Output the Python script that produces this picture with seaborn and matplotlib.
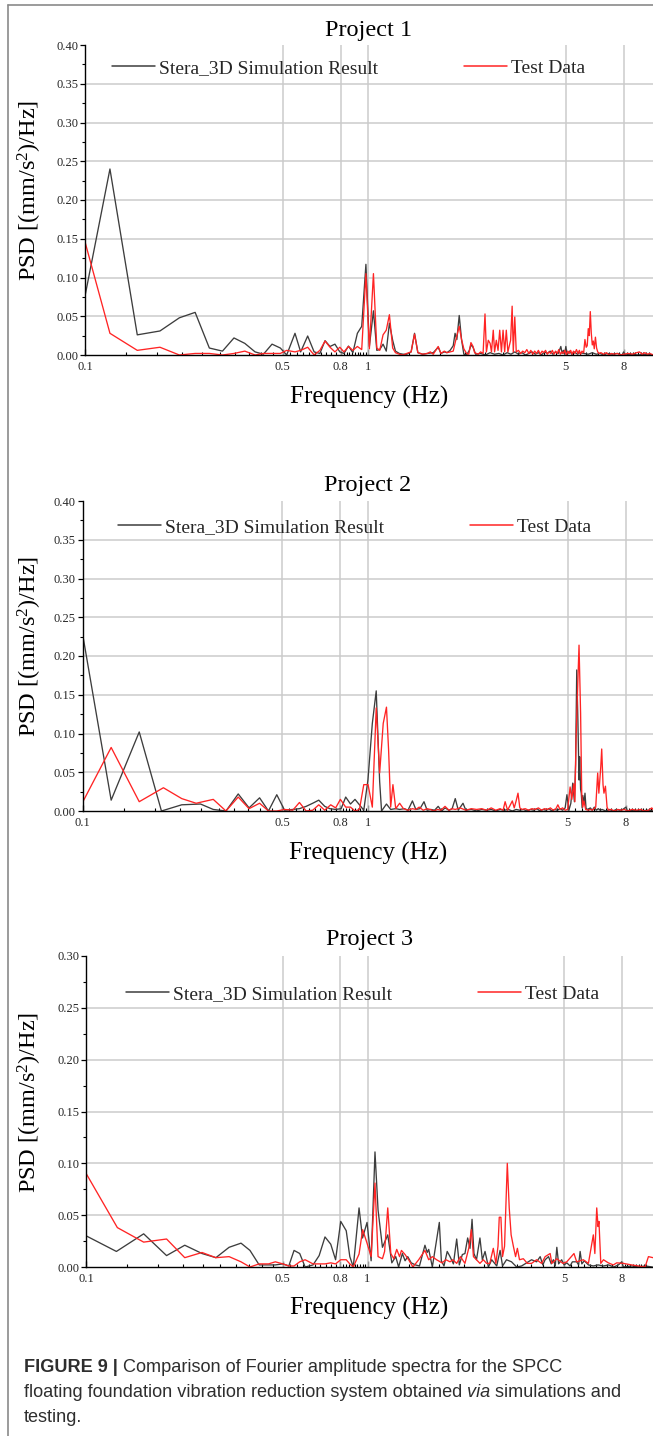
import numpy as np
import pandas as pd
import matplotlib
matplotlib.use("Agg")
import matplotlib.pyplot as plt
import seaborn as sns
from matplotlib.ticker import FixedLocator, FixedFormatter, MultipleLocator, FormatStrFormatter
from matplotlib.lines import Line2D

# ---------------- data ----------------
SERIES_NAMES = ["Stera_3D Simulation Result", "Test Data"]
TITLES = ["Project 1", "Project 2", "Project 3"]
XTICKS = [0.1, 0.5, 0.8, 1, 5, 8]
XTICK_LABELS = ["0.1", "0.5", "0.8", "1", "5", "8"]
X_LABEL = "Frequency (Hz)"
Y_LABEL = r"PSD [(mm/s$^{\mathregular{2}}$)/Hz]"

P1_SIM = [(0.100, 0.076), (0.1225, 0.240), (0.153, 0.026), (0.184, 0.031), (0.2155, 0.048),
          (0.245, 0.055), (0.275, 0.009), (0.306, 0.005), (0.336, 0.022), (0.367, 0.015),
          (0.399, 0.004), (0.427, 0.001), (0.458, 0.014), (0.490, 0.009), (0.516, 0.000),
          (0.552, 0.028), (0.578, 0.004), (0.612, 0.0245), (0.645, 0.004), (0.676, 0.002),
          (0.705, 0.0185), (0.734, 0.011), (0.764, 0.014), (0.795, 0.004), (0.822, 0.002),
          (0.853, 0.0115), (0.884, 0.003), (0.917, 0.028), (0.950, 0.037), (0.983, 0.117),
          (1.011, 0.011), (1.045, 0.057), (1.074, 0.006), (1.100, 0.007), (1.130, 0.014),
          (1.160, 0.005), (1.190, 0.041), (1.222, 0.019), (1.250, 0.005), (1.29, 0.002),
          (1.33, 0.001), (1.37, 0.001), (1.42, 0.004), (1.46, 0.028), (1.50, 0.003),
          (1.56, 0.001), (1.62, 0.002), (1.70, 0.003), (1.77, 0.010), (1.81, 0.002),
          (1.86, 0.004), (1.90, 0.003), (1.95, 0.006), (2.00, 0.012), (2.03, 0.028),
          (2.06, 0.020), (2.10, 0.051), (2.14, 0.020), (2.18, 0.001), (2.23, 0.000),
          (2.28, 0.006), (2.31, 0.013), (2.35, 0.010), (2.40, 0.001), (2.5, 0.002),
          (2.6, 0.000), (2.7, 0.003), (2.8, 0.001), (2.9, 0.002), (3.0, 0.000), (3.1, 0.003),
          (3.2, 0.001), (3.3, 0.004), (3.4, 0.001), (3.5, 0.003), (3.6, 0.000), (3.7, 0.002),
          (3.8, 0.004), (3.9, 0.001), (4.0, 0.003), (4.1, 0.000), (4.2, 0.004), (4.3, 0.002),
          (4.4, 0.005), (4.5, 0.001), (4.6, 0.004), (4.7, 0.002), (4.8, 0.011), (4.85, 0.002),
          (4.9, 0.006), (4.95, 0.001), (5.0, 0.011), (5.05, 0.000), (5.15, 0.005), (5.25, 0.001),
          (5.35, 0.004), (5.5, 0.001), (5.6, 0.003), (5.8, 0.002), (6.0, 0.001), (6.2, 0.003),
          (6.4, 0.001), (6.6, 0.002), (6.8, 0.000), (7.0, 0.002), (7.3, 0.001), (7.6, 0.002),
          (7.9, 0.000), (8.0, 0.004), (8.1, 0.000), (8.5, 0.001), (9.0, 0.000), (9.5, 0.001),
          (10.2, 0.000)]

P1_TEST = [(0.100, 0.146), (0.1225, 0.028), (0.153, 0.006), (0.184, 0.010), (0.2155, 0.000),
           (0.245, 0.002), (0.275, 0.002), (0.306, 0.000), (0.336, 0.002), (0.367, 0.005),
           (0.399, 0.000), (0.427, 0.002), (0.458, 0.002), (0.490, 0.002), (0.516, 0.006),
           (0.552, 0.004), (0.578, 0.006), (0.612, 0.010), (0.645, 0.000), (0.676, 0.006),
           (0.705, 0.018), (0.734, 0.010), (0.764, 0.004), (0.795, 0.010), (0.822, 0.004),
           (0.853, 0.011), (0.884, 0.006), (0.917, 0.011), (0.950, 0.007), (0.983, 0.105),
           (1.011, 0.008), (1.045, 0.105), (1.074, 0.009), (1.100, 0.006), (1.130, 0.026),
           (1.160, 0.032), (1.190, 0.052), (1.222, 0.009), (1.250, 0.003), (1.29, 0.001),
           (1.33, 0.000), (1.37, 0.002), (1.42, 0.004), (1.46, 0.027), (1.50, 0.003),
           (1.56, 0.001), (1.62, 0.002), (1.66, 0.004), (1.70, 0.001), (1.77, 0.011),
           (1.81, 0.002), (1.86, 0.005), (1.90, 0.003), (1.95, 0.004), (2.00, 0.005),
           (2.05, 0.022), (2.10, 0.037), (2.14, 0.020), (2.18, 0.008), (2.23, 0.002),
           (2.27, 0.001), (2.31, 0.016), (2.35, 0.011), (2.38, 0.003), (2.45, 0.001),
           (2.50, 0.004), (2.55, 0.002), (2.59, 0.053), (2.62, 0.004), (2.66, 0.019),
           (2.70, 0.015), (2.73, 0.004), (2.77, 0.032), (2.80, 0.004), (2.84, 0.019),
           (2.88, 0.006), (2.92, 0.032), (2.96, 0.004), (3.00, 0.032), (3.04, 0.004),
           (3.08, 0.032), (3.12, 0.004), (3.19, 0.019), (3.23, 0.063), (3.26, 0.004),
           (3.30, 0.049), (3.34, 0.004), (3.40, 0.006), (3.46, 0.002), (3.52, 0.005),
           (3.58, 0.003), (3.64, 0.007), (3.70, 0.002), (3.76, 0.006), (3.82, 0.001),
           (3.88, 0.005), (3.94, 0.002), (4.00, 0.006), (4.06, 0.001), (4.12, 0.005),
           (4.18, 0.003), (4.24, 0.006), (4.30, 0.001), (4.36, 0.004), (4.42, 0.002),
           (4.48, 0.006), (4.54, 0.001), (4.60, 0.005), (4.66, 0.002), (4.72, 0.007),
           (4.78, 0.001), (4.84, 0.004), (4.90, 0.002), (4.96, 0.006), (5.02, 0.000),
           (5.08, 0.005), (5.14, 0.002), (5.20, 0.006), (5.26, 0.001), (5.32, 0.005),
           (5.38, 0.002), (5.45, 0.007), (5.52, 0.002), (5.58, 0.006), (5.64, 0.001),
           (5.70, 0.005), (5.78, 0.003), (5.84, 0.020), (5.90, 0.010), (5.95, 0.012),
           (6.00, 0.034), (6.05, 0.025), (6.10, 0.056), (6.15, 0.028), (6.20, 0.013),
           (6.25, 0.018), (6.30, 0.008), (6.36, 0.023), (6.42, 0.009), (6.48, 0.004),
           (6.55, 0.002), (6.65, 0.003), (6.8, 0.001), (6.95, 0.003), (7.1, 0.000),
           (7.25, 0.002), (7.4, 0.001), (7.6, 0.002), (7.8, 0.000), (8.0, 0.001), (8.3, 0.002),
           (8.6, 0.001), (8.9, 0.003), (9.1, 0.004), (9.3, 0.001), (9.5, 0.003), (9.7, 0.001),
           (9.9, 0.002), (10.2, 0.000)]

P2_SIM = [(0.100, 0.229), (0.126, 0.014), (0.158, 0.102), (0.189, 0.000), (0.2226, 0.008),
          (0.259, 0.009), (0.287, 0.002), (0.318, 0.000), (0.351, 0.022), (0.383, 0.004),
          (0.417, 0.017), (0.448, 0.000), (0.479, 0.021), (0.510, 0.001), (0.545, 0.002),
          (0.575, 0.003), (0.607, 0.006), (0.640, 0.010), (0.672, 0.014), (0.705, 0.006),
          (0.735, 0.003), (0.770, 0.002), (0.805, 0.003), (0.835, 0.018), (0.868, 0.009),
          (0.900, 0.015), (0.933, 0.008), (0.966, 0.001), (0.999, 0.040), (1.035, 0.113),
          (1.068, 0.155), (1.098, 0.038), (1.115, 0.000), (1.16, 0.009), (1.20, 0.002),
          (1.25, 0.003), (1.29, 0.002), (1.34, 0.003), (1.38, 0.001), (1.43, 0.013),
          (1.47, 0.002), (1.52, 0.003), (1.57, 0.012), (1.61, 0.001), (1.66, 0.002),
          (1.71, 0.001), (1.76, 0.006), (1.81, 0.000), (1.86, 0.004), (1.92, 0.001),
          (1.97, 0.003), (2.02, 0.016), (2.07, 0.001), (2.15, 0.010), (2.20, 0.001),
          (2.30, 0.002), (2.4, 0.000), (2.5, 0.002), (2.6, 0.001), (2.7, 0.002), (2.8, 0.000),
          (2.9, 0.002), (3.0, 0.001), (3.1, 0.002), (3.2, 0.000), (3.3, 0.002), (3.4, 0.001),
          (3.5, 0.002), (3.6, 0.000), (3.7, 0.002), (3.8, 0.001), (3.9, 0.003), (4.0, 0.000),
          (4.1, 0.002), (4.2, 0.001), (4.3, 0.003), (4.4, 0.000), (4.5, 0.002), (4.6, 0.001),
          (4.7, 0.003), (4.8, 0.001), (4.9, 0.004), (4.97, 0.021), (5.05, 0.001), (5.13, 0.010),
          (5.21, 0.036), (5.28, 0.012), (5.33, 0.060), (5.38, 0.182), (5.43, 0.117),
          (5.48, 0.040), (5.51, 0.070), (5.55, 0.028), (5.58, 0.023), (5.62, 0.004),
          (5.65, 0.020), (5.70, 0.010), (5.75, 0.023), (5.80, 0.003), (5.9, 0.002), (6.0, 0.004),
          (6.1, 0.001), (6.2, 0.005), (6.3, 0.001), (6.4, 0.003), (6.5, 0.001), (6.6, 0.002),
          (6.8, 0.000), (7.0, 0.002), (7.2, 0.000), (7.4, 0.002), (7.6, 0.001), (7.8, 0.002),
          (8.0, 0.005), (8.1, 0.000), (8.5, 0.001), (9.0, 0.000), (9.5, 0.001), (10.0, 0.000)]

P2_TEST = [(0.100, 0.011), (0.126, 0.082), (0.158, 0.012), (0.192, 0.030), (0.2226, 0.016),
           (0.250, 0.010), (0.287, 0.015), (0.318, 0.000), (0.351, 0.018), (0.383, 0.003),
           (0.417, 0.010), (0.448, 0.000), (0.479, 0.000), (0.510, 0.002), (0.545, 0.001),
           (0.575, 0.011), (0.607, 0.000), (0.640, 0.001), (0.672, 0.008), (0.705, 0.001),
           (0.740, 0.008), (0.770, 0.004), (0.800, 0.015), (0.835, 0.005), (0.868, 0.005),
           (0.900, 0.000), (0.933, 0.002), (0.966, 0.034), (1.000, 0.034), (1.035, 0.005),
           (1.068, 0.133), (1.098, 0.049), (1.130, 0.113), (1.160, 0.134), (1.180, 0.079),
           (1.200, 0.005), (1.222, 0.034), (1.25, 0.003), (1.29, 0.010), (1.33, 0.003),
           (1.38, 0.001), (1.43, 0.003), (1.47, 0.002), (1.51, 0.005), (1.56, 0.001),
           (1.61, 0.003), (1.65, 0.002), (1.70, 0.000), (1.75, 0.002), (1.80, 0.001),
           (1.86, 0.006), (1.92, 0.001), (1.97, 0.003), (2.02, 0.002), (2.1, 0.004),
           (2.2, 0.001), (2.3, 0.003), (2.4, 0.002), (2.5, 0.003), (2.6, 0.001), (2.7, 0.004),
           (2.8, 0.001), (2.9, 0.003), (2.97, 0.001), (3.02, 0.012), (3.08, 0.001),
           (3.14, 0.007), (3.20, 0.013), (3.25, 0.004), (3.30, 0.013), (3.35, 0.023),
           (3.40, 0.004), (3.46, 0.002), (3.55, 0.003), (3.65, 0.001), (3.75, 0.003),
           (3.85, 0.002), (3.95, 0.004), (4.05, 0.001), (4.15, 0.003), (4.25, 0.002),
           (4.35, 0.004), (4.45, 0.001), (4.55, 0.003), (4.62, 0.008), (4.70, 0.002),
           (4.80, 0.004), (4.90, 0.001), (5.00, 0.002), (5.10, 0.031), (5.17, 0.015),
           (5.25, 0.035), (5.30, 0.012), (5.35, 0.092), (5.43, 0.169), (5.48, 0.214),
           (5.55, 0.126), (5.60, 0.023), (5.65, 0.005), (5.70, 0.013), (5.78, 0.002),
           (5.9, 0.001), (6.0, 0.002), (6.1, 0.001), (6.27, 0.005), (6.37, 0.049),
           (6.43, 0.023), (6.53, 0.057), (6.58, 0.080), (6.65, 0.034), (6.70, 0.023),
           (6.78, 0.032), (6.87, 0.005), (6.95, 0.001), (7.1, 0.002), (7.3, 0.000), (7.5, 0.002),
           (7.7, 0.001), (7.9, 0.002), (8.1, 0.000), (8.4, 0.002), (8.7, 0.001), (9.0, 0.002),
           (9.3, 0.000), (9.6, 0.001), (9.85, 0.004), (10.0, 0.001)]

P3_SIM = [(0.100, 0.030), (0.128, 0.015), (0.160, 0.032), (0.193, 0.011), (0.224, 0.021),
          (0.258, 0.013), (0.289, 0.009), (0.322, 0.019), (0.355, 0.023), (0.382, 0.016),
          (0.412, 0.002), (0.445, 0.002), (0.470, 0.002), (0.500, 0.003), (0.525, 0.001),
          (0.548, 0.016), (0.574, 0.013), (0.600, 0.000), (0.640, 0.002), (0.673, 0.011),
          (0.706, 0.029), (0.740, 0.022), (0.770, 0.007), (0.803, 0.044), (0.840, 0.035),
          (0.865, 0.010), (0.890, 0.000), (0.933, 0.057), (0.960, 0.028), (0.996, 0.043),
          (1.030, 0.006), (1.063, 0.111), (1.090, 0.055), (1.130, 0.019), (1.180, 0.031),
          (1.220, 0.004), (1.260, 0.010), (1.290, 0.000), (1.330, 0.013), (1.360, 0.006),
          (1.390, 0.010), (1.430, 0.004), (1.480, 0.002), (1.530, 0.001), (1.600, 0.021),
          (1.630, 0.014), (1.650, 0.017), (1.700, 0.000), (1.800, 0.043), (1.830, 0.006),
          (1.870, 0.001), (1.920, 0.015), (1.965, 0.010), (2.02, 0.003), (2.075, 0.027),
          (2.12, 0.002), (2.173, 0.012), (2.22, 0.013), (2.27, 0.028), (2.314, 0.018),
          (2.353, 0.046), (2.39, 0.013), (2.44, 0.007), (2.51, 0.028), (2.56, 0.007),
          (2.617, 0.015), (2.69, 0.000), (2.764, 0.007), (2.88, 0.001), (2.96, 0.016),
          (3.02, 0.001), (3.12, 0.007), (3.25, 0.005), (3.39, 0.000), (3.53, 0.001),
          (3.68, 0.004), (3.83, 0.007), (3.99, 0.005), (4.11, 0.010), (4.20, 0.002),
          (4.28, 0.007), (4.40, 0.010), (4.50, 0.003), (4.58, 0.007), (4.65, 0.001),
          (4.71, 0.019), (4.78, 0.003), (4.90, 0.007), (5.0, 0.002), (5.11, 0.004),
          (5.25, 0.001), (5.35, 0.005), (5.54, 0.005), (5.63, 0.002), (5.70, 0.015),
          (5.78, 0.003), (5.90, 0.006), (6.1, 0.002), (6.35, 0.001), (6.6, 0.002), (6.9, 0.001),
          (7.2, 0.002), (7.5, 0.000), (7.8, 0.002), (8.01, 0.005), (8.12, 0.000), (8.7, 0.001),
          (9.2, 0.000), (9.7, 0.001), (10.3, 0.000)]

P3_TEST = [(0.100, 0.090), (0.129, 0.038), (0.160, 0.024), (0.193, 0.027), (0.224, 0.009),
           (0.258, 0.014), (0.289, 0.009), (0.322, 0.010), (0.355, 0.005), (0.382, 0.000),
           (0.412, 0.003), (0.445, 0.003), (0.470, 0.005), (0.500, 0.003), (0.525, 0.001),
           (0.548, 0.001), (0.574, 0.005), (0.600, 0.007), (0.640, 0.003), (0.673, 0.003),
           (0.706, 0.003), (0.740, 0.004), (0.770, 0.003), (0.803, 0.007), (0.840, 0.007),
           (0.865, 0.003), (0.890, 0.000), (0.933, 0.0125), (0.961, 0.036), (0.996, 0.023),
           (1.030, 0.010), (1.063, 0.081), (1.090, 0.010), (1.130, 0.008), (1.150, 0.015),
           (1.180, 0.057), (1.210, 0.013), (1.240, 0.008), (1.270, 0.017), (1.300, 0.010),
           (1.320, 0.016), (1.360, 0.012), (1.400, 0.007), (1.450, 0.000), (1.520, 0.007),
           (1.600, 0.016), (1.650, 0.007), (1.700, 0.010), (1.760, 0.007), (1.840, 0.004),
           (1.900, 0.007), (1.965, 0.005), (2.01, 0.007), (2.075, 0.0035), (2.14, 0.010),
           (2.22, 0.0035), (2.29, 0.018), (2.34, 0.036), (2.38, 0.010), (2.44, 0.007),
           (2.51, 0.0035), (2.58, 0.007), (2.65, 0.0035), (2.72, 0.0035), (2.80, 0.018),
           (2.86, 0.0035), (2.91, 0.020), (2.94, 0.048), (2.98, 0.048), (3.02, 0.010),
           (3.07, 0.020), (3.14, 0.100), (3.19, 0.057), (3.24, 0.031), (3.30, 0.020),
           (3.36, 0.010), (3.41, 0.018), (3.47, 0.007), (3.58, 0.008), (3.70, 0.0035),
           (3.83, 0.0035), (3.99, 0.007), (4.16, 0.0035), (4.28, 0.010), (4.46, 0.013),
           (4.52, 0.0035), (4.71, 0.008), (4.95, 0.0035), (5.11, 0.005), (5.42, 0.013),
           (5.54, 0.005), (5.85, 0.007), (6.10, 0.0035), (6.35, 0.031), (6.43, 0.013),
           (6.53, 0.057), (6.60, 0.039), (6.65, 0.044), (6.75, 0.0035), (6.90, 0.007),
           (7.18, 0.004), (7.48, 0.002), (7.69, 0.004), (8.12, 0.0035), (8.69, 0.002),
           (9.18, 0.001), (9.70, 0.000), (9.97, 0.010), (10.35, 0.009)]

PANEL_DATA = [(P1_SIM, P1_TEST), (P2_SIM, P2_TEST), (P3_SIM, P3_TEST)]
Y_MAX = [0.40, 0.40, 0.30]

CAPTION = [
    [("FIGURE 9 |", "bold", "normal"), (" Comparison of Fourier amplitude spectra for the SPCC", "normal", "normal")],
    [("floating foundation vibration reduction system obtained ", "normal", "normal"), ("via", "normal", "italic"),
     (" simulations and", "normal", "normal")],
    [("testing.", "normal", "normal")],
]

# ---------------- styling / layout ----------------
W, H = 653, 1436
SIM_COLOR = "#3d3d3d"
TEST_COLOR = "#ff2424"
GRID_COLOR = "#cbcbcb"

# panel geometry in pixels: axes left, top, bottom, x right limit, title y, xlabel y, legend x, legend y-frac
LAYOUT = [
    dict(left=85.0, top=45, bottom=355, xmax=10.16, title_y=30, xlabel_y=397, leg_x=112, leg_y=0.926),
    dict(left=82.5, top=501, bottom=811, xmax=9.95, title_y=485, xlabel_y=853, leg_x=118, leg_y=0.916),
    dict(left=86.25, top=956, bottom=1267, xmax=10.35, title_y=940, xlabel_y=1308, leg_x=126, leg_y=0.878),
]

sns.set_theme(style="white")
plt.rcParams["font.family"] = ["Liberation Serif", "DejaVu Serif"]
plt.rcParams["mathtext.fontset"] = "custom"
plt.rcParams["mathtext.rm"] = "Liberation Serif"
plt.rcParams["mathtext.it"] = "Liberation Serif:italic"
plt.rcParams["mathtext.bf"] = "Liberation Serif:bold"

fig = plt.figure(figsize=(W / 100, H / 100), dpi=100)
fig.patch.set_facecolor("white")


def minor_positions(majors, xmax):
    pts = []
    edges = list(majors) + [10.0]
    for a, b in zip(edges[:-1], edges[1:]):
        step = (b - a) / 10.0
        pts.extend(a + step * k for k in range(1, 10))
    return [p for p in pts if p < xmax]


for i, (lay, (sim, test)) in enumerate(zip(LAYOUT, PANEL_DATA)):
    left, top, bottom = lay["left"], lay["top"], lay["bottom"]
    ax = fig.add_axes([left / W, 1 - bottom / H, 1 - left / W, (bottom - top) / H])
    ax.set_facecolor("white")

    df = pd.concat([
        pd.DataFrame({"f": [p[0] for p in sim], "v": [p[1] for p in sim], "series": SERIES_NAMES[0]}),
        pd.DataFrame({"f": [p[0] for p in test], "v": [p[1] for p in test], "series": SERIES_NAMES[1]}),
    ], ignore_index=True)

    sns.lineplot(data=df, x="f", y="v", hue="series", hue_order=SERIES_NAMES,
                 palette=[SIM_COLOR, TEST_COLOR], estimator=None, sort=False,
                 linewidth=0.95, ax=ax, legend=False, zorder=3)

    ax.set_xscale("log")
    ax.set_xlim(0.1, lay["xmax"])
    ymax = Y_MAX[i]
    ax.set_ylim(0, ymax)

    # x ticks (inward) with custom majors and linear minors
    ax.xaxis.set_major_locator(FixedLocator(XTICKS))
    ax.xaxis.set_major_formatter(FixedFormatter(XTICK_LABELS))
    ax.xaxis.set_minor_locator(FixedLocator(minor_positions(XTICKS, lay["xmax"])))
    ax.xaxis.set_minor_formatter(FixedFormatter([]))
    ax.tick_params(axis="x", which="major", direction="in", length=4, width=0.9, color="black",
                   labelsize=9, pad=4, bottom=True)
    ax.tick_params(axis="x", which="minor", direction="in", length=2.2, width=0.8, color="black", bottom=True)

    # y ticks (outward)
    ax.yaxis.set_major_locator(MultipleLocator(0.05))
    ax.yaxis.set_minor_locator(MultipleLocator(0.025))
    ax.yaxis.set_major_formatter(FormatStrFormatter("%.2f"))
    ax.tick_params(axis="y", which="major", direction="out", length=3.5, width=0.9, color="black",
                   labelsize=9, pad=1.5, left=True)
    ax.tick_params(axis="y", which="minor", direction="out", length=2.2, width=0.8, color="black", left=True)

    # grid lines
    for xv in XTICKS[1:]:
        ax.axvline(xv, color=GRID_COLOR, lw=1.1, zorder=1)
    for yv in np.arange(0.05, ymax - 1e-9, 0.05):
        ax.axhline(yv, color=GRID_COLOR, lw=1.1, zorder=1)

    for s in ["top", "right"]:
        ax.spines[s].set_visible(False)
    for s in ["left", "bottom"]:
        ax.spines[s].set_color("black")
        ax.spines[s].set_linewidth(1.0)
        ax.spines[s].set_zorder(5)

    h = bottom - top
    axw = W - left
    ax.text(0.5, 1 + (top - lay["title_y"]) / h, TITLES[i], transform=ax.transAxes,
            ha="center", va="center", fontsize=17.5, color="black")
    ax.text(0.5, -(lay["xlabel_y"] - bottom) / h, X_LABEL, transform=ax.transAxes,
            ha="center", va="center", fontsize=18, color="black")
    ax.text((30 - left) / axw, 0.53, Y_LABEL, transform=ax.transAxes, rotation=90,
            ha="center", va="center", fontsize=17.5, color="black")
    ax.set_xlabel("")
    ax.set_ylabel("")

    handles = [Line2D([], [], color=SIM_COLOR, lw=1.1), Line2D([], [], color=TEST_COLOR, lw=1.1)]
    ax.legend(handles, SERIES_NAMES, ncol=2, frameon=False, loc="center left",
              bbox_to_anchor=((lay["leg_x"] - left) / axw, lay["leg_y"]), fontsize=14,
              handlelength=2.2, handletextpad=0.2, columnspacing=4.45,
              borderpad=0, borderaxespad=0)

# border lines of the figure panel
fig.add_artist(Line2D([8 / W, 8 / W], [0, 1 - 5 / H], color="#8a8a8a", lw=1.2))
fig.add_artist(Line2D([8 / W, 1], [1 - 5 / H, 1 - 5 / H], color="#8a8a8a", lw=1.2))

# caption
renderer = fig.canvas.get_renderer()
CAP_BASELINES = [1372, 1397, 1422]
for runs, yb in zip(CAPTION, CAP_BASELINES):
    x = 24.0
    for txt, weight, style in runs:
        t = fig.text(x / W, 1 - yb / H, txt, fontsize=13.1, family=["Liberation Sans", "DejaVu Sans"],
                     weight=weight, style=style, color="#2e2e2e", ha="left", va="baseline")
        bb = t.get_window_extent(renderer)
        x = bb.x1

fig.savefig("out.png", dpi=100, facecolor="white")
